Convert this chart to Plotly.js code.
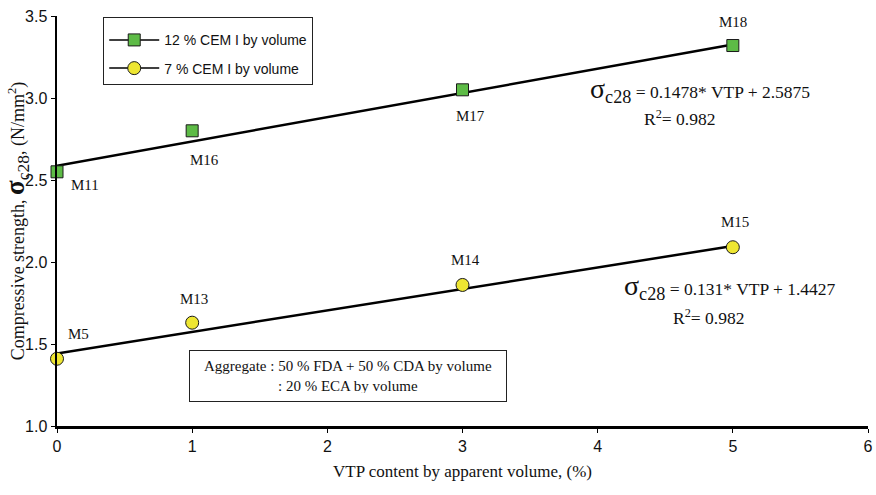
<!DOCTYPE html>
<html>
<head>
<meta charset="utf-8">
<script src="https://cdn.plot.ly/plotly-3.0.1.min.js"></script>
<style>html,body{margin:0;padding:0;background:#fff;}#chart{width:876px;height:495px;}</style>
</head>
<body>
<div id="chart"></div>
<script>
// ---- data ----
const vtp = [0, 1, 3, 5];
const cem12Labels = ["M11", "M16", "M17", "M18"];
const cem12Values = [2.55, 2.80, 3.05, 3.32];
const cem7Labels = ["M5", "M13", "M14", "M15"];
const cem7Values = [1.41, 1.63, 1.86, 2.09];
const fit12 = {slope: 0.1478, intercept: 2.5875};
const fit7 = {slope: 0.131, intercept: 1.4427};
const r2Values = [0.982, 0.982];
const fitRange = [0, 5];
const xTicks = [0, 1, 2, 3, 4, 5, 6];
const yTicks = [1.0, 1.5, 2.0, 2.5, 3.0, 3.5];

const serif = "Liberation Serif, Times New Roman, serif";
const sans = "Liberation Sans, Arial, sans-serif";
const greenMarker = {symbol: "square", size: 12, color: "#5dbb46", line: {color: "#1a1a1a", width: 1}};
const yellowMarker = {symbol: "circle", size: 13, color: "#eee632", line: {color: "#1a1a1a", width: 1}};

function fitLine(f) {
  return fitRange.map(x => f.slope * x + f.intercept);
}

const traces = [
  {x: fitRange, y: fitLine(fit12), mode: "lines", line: {color: "#000", width: 2.5}, showlegend: false, hoverinfo: "skip", cliponaxis: false},
  {x: fitRange, y: fitLine(fit7), mode: "lines", line: {color: "#000", width: 2.5}, showlegend: false, hoverinfo: "skip", cliponaxis: false},
  {x: vtp, y: cem12Values, mode: "markers", marker: greenMarker, showlegend: false, cliponaxis: false},
  {x: vtp, y: cem7Values, mode: "markers", marker: yellowMarker, showlegend: false, cliponaxis: false},
  {x: [null], y: [null], mode: "lines+markers", name: "12 % CEM I by volume", legendgroup: "a", marker: greenMarker, line: {color: "#000", width: 1.5}},
  {x: [null], y: [null], mode: "lines+markers", name: "7 % CEM I by volume", legendgroup: "b", marker: yellowMarker, line: {color: "#000", width: 1.5}}
];

// point labels offsets (style only)
const off12 = [[28, -13], [12, -29], [8, -26], [0, 24]];
const off7 = [[21, 25], [2, 24], [3, 25], [2, 25]];
const annotations = [];
vtp.forEach((x, i) => {
  annotations.push({x: x, y: cem12Values[i], xref: "x", yref: "y", text: cem12Labels[i], showarrow: false,
    xshift: off12[i][0], yshift: off12[i][1], font: {family: serif, size: 15, color: "#111"}});
  annotations.push({x: x, y: cem7Values[i], xref: "x", yref: "y", text: cem7Labels[i], showarrow: false,
    xshift: off7[i][0], yshift: off7[i][1], font: {family: serif, size: 15, color: "#111"}});
});
const sig = "<span style='font-size:28px'>σ</span><span style='font-size:26px'><sub>c28</sub></span>";
annotations.push({x: 3.925, y: 3.05, xref: "x", yref: "y", xanchor: "left", showarrow: false,
  text: sig + " = " + fit12.slope + "* VTP + " + fit12.intercept, font: {family: serif, size: 17.5, color: "#111"}});
annotations.push({x: 4.33, y: 2.877, xref: "x", yref: "y", xanchor: "left", showarrow: false,
  text: "R<sup>2</sup>= " + r2Values[0], font: {family: serif, size: 17.5, color: "#111"}});
annotations.push({x: 4.18, y: 1.85, xref: "x", yref: "y", xanchor: "left", showarrow: false,
  text: sig + " = " + fit7.slope + "* VTP + " + fit7.intercept, font: {family: serif, size: 17.5, color: "#111"}});
annotations.push({x: 4.54, y: 1.665, xref: "x", yref: "y", xanchor: "left", showarrow: false,
  text: "R<sup>2</sup>= " + r2Values[1], font: {family: serif, size: 17.5, color: "#111"}});
annotations.push({x: 2.155, y: 1.305, xref: "x", yref: "y", showarrow: false,
  text: "Aggregate : 50 % FDA + 50 % CDA by volume<br>: 20 % ECA by volume", align: "center",
  width: 300, height: 34,
  font: {family: serif, size: 15, color: "#111"}, bordercolor: "#222", borderwidth: 1, borderpad: 8, bgcolor: "#fff"});

const layout = {
  width: 876, height: 495,
  margin: {l: 57, r: 8, t: 16, b: 69},
  paper_bgcolor: "#fff", plot_bgcolor: "#fff",
  showlegend: true,
  legend: {x: 0.057, y: 0.998, xanchor: "left", yanchor: "top", bordercolor: "#222", borderwidth: 1,
    bgcolor: "#fff", font: {family: sans, size: 14, color: "#111"}, tracegroupgap: 7, itemwidth: 50,
    title: {text: " ", font: {size: 5}}},
  xaxis: {range: [0, 6], tickvals: xTicks, ticktext: xTicks.map(String), showgrid: false, zeroline: false,
    showline: true, linecolor: "#000", linewidth: 2.5, ticks: "outside", ticklen: 4, tickcolor: "#000",
    tickfont: {family: sans, size: 16, color: "#111"},
    title: {text: "VTP content by apparent volume, (%)", font: {family: serif, size: 17, color: "#111"}, standoff: 12}},
  yaxis: {range: [1, 3.5], tickvals: yTicks, ticktext: yTicks.map(v => v.toFixed(1)), showgrid: false, zeroline: false,
    showline: true, linecolor: "#000", linewidth: 2.5, ticks: "outside", ticklen: 4, tickcolor: "#000",
    tickfont: {family: sans, size: 16, color: "#111"},
    title: {text: "Compressive strength, <span style='font-size:27px'><b>σ</b></span><span style='font-size:25px'><sub>c28</sub></span>, (N/mm<sup>2</sup>)",
      font: {family: serif, size: 18, color: "#111"}, standoff: 4}},
  annotations: annotations
};

Plotly.newPlot("chart", traces, layout, {displayModeBar: false, staticPlot: true});
</script>
</body>
</html>
